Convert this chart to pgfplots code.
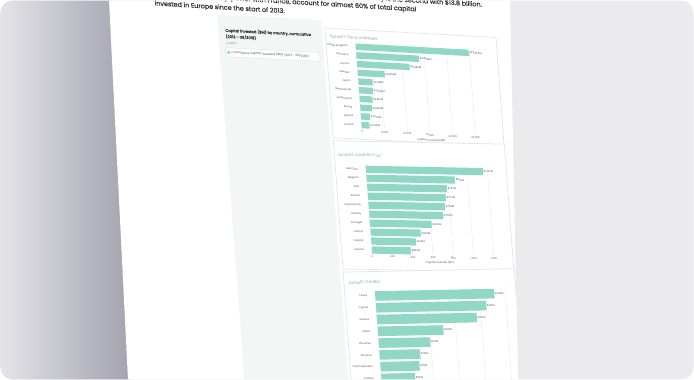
\documentclass[border=0pt]{standalone}
\usepackage{pgfplots}
\pgfplotsset{compat=1.18}
\usepackage{fontspec}
\setmainfont{Poppins}
\newfontfamily\parafont{Poppins}[FakeBold=0.6]
\newfontfamily\semifont{Poppins}[FakeBold=0.4]
\definecolor{barc}{HTML}{90D7C6}
\definecolor{txt}{HTML}{333333}
\definecolor{lbl}{HTML}{555555}
\definecolor{ttl}{HTML}{7E9A96}
\definecolor{grd}{HTML}{C4C8C8}
\definecolor{cardc}{HTML}{E2E5E5}
\definecolor{side}{HTML}{F4F6F6}
\definecolor{frame}{HTML}{EBEBEE}
\definecolor{shadeL}{HTML}{E4E4E8}
\definecolor{shadeR}{HTML}{A3A2AE}
\newcommand\tf{\fontsize{2.6}{3}\selectfont}
\pgfplotsset{
  cstyle/.style={
    scale only axis, xbar, y dir=reverse, xmin=0,
    axis line style={draw=none}, tick style={draw=none},
    xmajorgrids, grid style={grd, dash pattern=on 0.8pt off 0.8pt, line width=0.25pt},
    ticklabel style={font=\tf, text=lbl},
    yticklabel style={anchor=east, inner sep=0pt, xshift=-3.5pt},
    xticklabel style={anchor=north, inner sep=0pt, yshift=-0.8pt},
    /pgf/number format/1000 sep={,},
    /pgf/number format/assume math mode=true,
    scaled x ticks=false,
    point meta=x,
    nodes near coords={\$\pgfmathprintnumber{\pgfplotspointmeta}M},
    nodes near coords style={font=\tf, text=lbl, anchor=west, inner sep=0.6pt},
    xlabel={Capital invested (\$M)},
    xlabel style={font=\tf, text=lbl},
    clip=false,
  }
}
\begin{document}
\begin{tikzpicture}
\fill[white] (0pt,0pt) rectangle (694pt,-380pt);
\begin{scope}
\clip[rounded corners=12pt] (0.5pt,-0.5pt) rectangle (693.5pt,-379.3pt);
\fill[frame] (0pt,0pt) rectangle (694pt,-380pt);
\shade[left color=shadeL, right color=shadeR] (0pt,0pt) -- (111pt,0pt) -- (130pt,-380pt) -- (0pt,-380pt) -- cycle;
\fill[white] (109pt,0pt) -- (510pt,0pt) -- (518pt,-380pt) -- (128pt,-380pt) -- cycle;
\clip (109pt,0pt) -- (510pt,0pt) -- (518pt,-380pt) -- (128pt,-380pt) -- cycle;

% paragraph
\begin{scope}[cm={1,-0.06,-0.075,1,(-14.25pt,16.8pt)}, transform shape]
\node[anchor=east, inner sep=0pt, text=txt, font=\parafont\fontsize{6.4}{7}\selectfont] at (497pt,8pt) {The United Kingdom is the top destination with \$24.9 billion, and Germany is the second with \$13.8 billion.};
\node[anchor=east, inner sep=0pt, text=txt, font=\parafont\fontsize{6.4}{7}\selectfont] at (430.7pt,-0.75pt) {The two leaders, the top power with France, account for almost 60\% of total capital};
\node[anchor=west, inner sep=0pt, text=txt, font=\parafont\fontsize{6.4}{7}\selectfont] at (168pt,-10.5pt) {invested in Europe since the start of 2013.};
\end{scope}

% sidebar
\begin{scope}[cm={1,-0.05,-0.075,1,(-14.25pt,14pt)}, transform shape]
\fill[side] (230pt,-17.3pt) rectangle (334pt,-430pt);
\node[anchor=west, inner sep=0pt, text=txt, font=\semifont\fontsize{3.8}{4.4}\selectfont] at (236.9pt,-32.6pt) {Capital invested (\$M) by country, cumulative};
\node[anchor=west, inner sep=0pt, text=txt, font=\semifont\fontsize{3.8}{4.4}\selectfont] at (236.9pt,-38.6pt) {(2013 - 09/2018)};
\node[anchor=west, inner sep=0pt, text=ttl, font=\fontsize{2.8}{3.2}\selectfont] at (237pt,-45.5pt) {LEGEND};
\draw[cardc, line width=0.5pt, fill=white] (236pt,-49.9pt) rectangle (330pt,-58.9pt);
\draw[barc!80!black, fill=barc!40, line width=0.3pt] (238.9pt,-54.4pt) circle (1.4pt);
\node[anchor=west, inner sep=0pt, text=lbl, font=\fontsize{3.1}{3.5}\selectfont] at (241.5pt,-54.4pt) {Cumulative capital invested (\$M) (2013 - 09/2018)};
\end{scope}

% chart 1
\begin{scope}[cm={1,-0.055,-0.075,1,(-14.25pt,20.185pt)}, transform shape]
\draw[cardc, fill=white, line width=0.7pt] (337pt,-29.7pt) rectangle (508pt,-139.3pt);
\node[anchor=west, inner sep=0pt, text=ttl, font=\fontsize{3.5}{4}\selectfont] at (341.5pt,-38.1pt) {DATASET: TOP 10 COUNTRIES};
\begin{axis}[cstyle, at={(366.5pt,-42.35pt)}, anchor=north west,
  width=113.5pt, height=87.1pt, xmax=25000, ymin=-0.5, ymax=9.5,
  bar width=6.4pt, xtick={0,5000,...,25000}, ytick={0,...,9},
  yticklabels={United Kingdom,Germany,France,Sweden,Spain,Netherlands,Switzerland,Russia,Ireland,Finland},
  xlabel style={at={(axis description cs:0.607,0)}, anchor=center, yshift=-7.2pt}]
\addplot[fill=barc, draw=none] coordinates {(24876,0) (13808,1) (11582,2) (5962,3) (3148,4) (3096,5) (2812,6) (2534,7) (2003,8) (1726,9)};
\end{axis}
\end{scope}

% chart 2
\begin{scope}[cm={1,-0.02,-0.075,1,(-14.25pt,7.34pt)}, transform shape]
\draw[cardc, fill=white, line width=0.7pt] (337pt,-141.3pt) rectangle (508pt,-269.5pt);
\node[anchor=west, inner sep=0pt, text=ttl, font=\fontsize{3.5}{4}\selectfont] at (340.9pt,-155.5pt) {DATASET: COUNTRY 11-20};
\begin{axis}[cstyle, at={(367.5pt,-164.8pt)}, anchor=north west,
  width=121.5pt, height=89.7pt, xmax=1200, ymin=-0.5, ymax=9.5,
  bar width=7.2pt, xtick={0,200,...,1200}, ytick={0,...,9},
  yticklabels={Denmark,Belgium,Italy,Austria,Luxembourg,Norway,Portugal,Poland,Iceland,Estonia},
  xlabel style={at={(axis description cs:0.552,0)}, anchor=center, yshift=-7pt}]
\addplot[fill=barc, draw=none] coordinates {(1157,0) (872,1) (787,2) (770,3) (754,4) (730,5) (609,6) (494,7) (441,8) (382,9)};
\end{axis}
\end{scope}

% chart 3
\begin{scope}[cm={1,0.02,-0.075,1,(-14.25pt,-7.34pt)}, transform shape]
\draw[cardc, fill=white, line width=0.7pt] (337pt,-271.5pt) rectangle (508pt,-420pt);
\node[anchor=west, inner sep=0pt, text=ttl, font=\fontsize{3.5}{4}\selectfont] at (342pt,-282.5pt) {DATASET: THE REST};
\begin{axis}[cstyle, at={(367.3pt,-290.1pt)}, anchor=north west,
  width=130pt, height=94.24pt, xmax=250, ymin=-0.5, ymax=7.5,
  bar width=9.6pt, xtick={0,50,...,250}, ytick={0,...,7},
  yticklabels={Turkey,Cyprus,Greece,Malta,Lithuania,Slovenia,Czech Republic,Croatia}]
\addplot[fill=barc, draw=none] coordinates {(229,0) (212,1) (192,2) (126,3) (99,4) (78,5) (75,6) (65,7)};
\end{axis}
\end{scope}
\end{scope}
\pgfresetboundingbox
\useasboundingbox (0pt,0pt) rectangle (694pt,-380pt);
\end{tikzpicture}
\end{document}
